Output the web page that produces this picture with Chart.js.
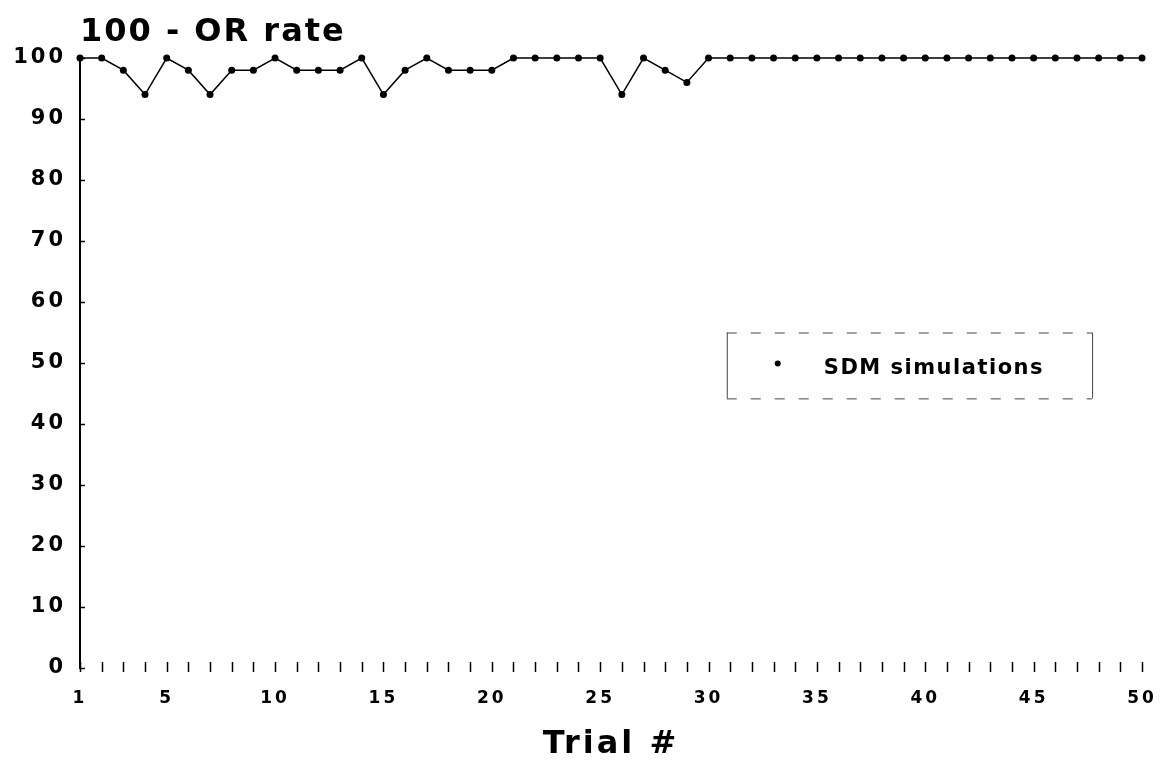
<!DOCTYPE html>
<html>
<head>
<meta charset="utf-8">
<script src="https://cdn.jsdelivr.net/npm/chart.js@4/dist/chart.umd.min.js"></script>
<style>
  html, body { margin: 0; padding: 0; background: #fff; }
  #wrap { width: 1161px; height: 762px; position: relative; }
</style>
</head>
<body>
<div id="wrap"><canvas id="c"></canvas></div>
<script>
const chartTitle = "100 - OR rate";
const xTitle = "Trial #";
const seriesLabel = "SDM simulations";
const trials = [1, 2, 3, 4, 5, 6, 7, 8, 9, 10,
                11, 12, 13, 14, 15, 16, 17, 18, 19, 20,
                21, 22, 23, 24, 25, 26, 27, 28, 29, 30,
                31, 32, 33, 34, 35, 36, 37, 38, 39, 40,
                41, 42, 43, 44, 45, 46, 47, 48, 49, 50];
const rate = [100, 100, 98, 94, 100, 98, 94, 98, 98, 100,
              98, 98, 98, 100, 94, 98, 100, 98, 98, 98,
              100, 100, 100, 100, 100, 94, 100, 98, 96, 100,
              100, 100, 100, 100, 100, 100, 100, 100, 100, 100,
              100, 100, 100, 100, 100, 100, 100, 100, 100, 100];
const xTickValues = [1, 5, 10, 15, 20, 25, 30, 35, 40, 45, 50];
const yTickValues = [0, 10, 20, 30, 40, 50, 60, 70, 80, 90, 100];

const FONT = "'DejaVu Sans', 'Liberation Sans', Arial, sans-serif";

const spacing = {
  id: 'spacing',
  beforeDraw(chart) { chart.ctx.letterSpacing = '3px'; },
  afterDraw(chart) { chart.ctx.letterSpacing = '0px'; }
};

const decor = {
  id: 'decor',
  afterDraw(chart) {
    const ctx = chart.ctx;
    const ca = chart.chartArea;
    const xs = chart.scales.x, ys = chart.scales.y;
    ctx.save();
    // title
    ctx.fillStyle = '#000';
    ctx.font = "bold 32px " + FONT;
    ctx.letterSpacing = '2px';
    ctx.textAlign = 'left';
    ctx.textBaseline = 'alphabetic';
    ctx.fillText(chartTitle, ca.left, 41);
    ctx.letterSpacing = '0px';
    // x tick marks at every trial (pointing up)
    ctx.strokeStyle = '#000';
    ctx.lineWidth = 1.5;
    trials.forEach(t => {
      const px = Math.round(xs.getPixelForValue(t)) + 0.5;
      ctx.beginPath();
      ctx.moveTo(px, ca.bottom + 4);
      ctx.lineTo(px, ca.bottom - 6);
      ctx.stroke();
    });
    // y tick marks (inside)
    yTickValues.forEach(v => {
      const py = Math.round(ys.getPixelForValue(v)) + 0.5;
      ctx.beginPath();
      ctx.moveTo(ca.left, py);
      ctx.lineTo(ca.left + 5, py);
      ctx.stroke();
    });
    // legend box
    const w = ca.right - ca.left, h = ca.bottom - ca.top;
    const lx = ca.left + w * 0.609, rx = ca.left + w * 0.953;
    const ty = ca.top + h * 0.450, by = ca.top + h * 0.558;
    ctx.lineWidth = 1;
    ctx.strokeStyle = '#444';
    ctx.beginPath();
    ctx.moveTo(lx + 0.5, ty); ctx.lineTo(lx + 0.5, by);
    ctx.moveTo(rx + 0.5, ty); ctx.lineTo(rx + 0.5, by);
    ctx.stroke();
    ctx.setLineDash([10, 14]);
    ctx.beginPath();
    ctx.moveTo(lx, ty + 0.5); ctx.lineTo(rx, ty + 0.5);
    ctx.moveTo(lx, by + 0.5); ctx.lineTo(rx, by + 0.5);
    ctx.stroke();
    ctx.setLineDash([]);
    const my = (ty + by) / 2;
    ctx.fillStyle = '#000';
    ctx.beginPath();
    ctx.arc(lx + 51, my - 2, 3, 0, Math.PI * 2);
    ctx.fill();
    ctx.font = "bold 21px " + FONT;
    ctx.letterSpacing = '1.5px';
    ctx.textBaseline = 'middle';
    ctx.fillText(seriesLabel, lx + 97, my + 3);
    ctx.restore();
  }
};

new Chart(document.getElementById('c'), {
  type: 'line',
  data: {
    datasets: [{
      label: seriesLabel,
      data: trials.map((t, i) => ({ x: t, y: rate[i] })),
      borderColor: '#000',
      backgroundColor: '#000',
      borderWidth: 1.5,
      pointRadius: 3.5,
      pointHoverRadius: 3.5,
      pointBorderWidth: 0,
      tension: 0,
      clip: false
    }]
  },
  options: {
    responsive: true,
    maintainAspectRatio: false,
    animation: false,
    devicePixelRatio: 1,
    layout: { padding: { top: 58, right: 19, left: 0, bottom: 0 } },
    plugins: { legend: { display: false }, title: { display: false }, tooltip: { enabled: false } },
    scales: {
      x: {
        type: 'linear',
        min: 1, max: 50,
        afterBuildTicks: s => { s.ticks = xTickValues.map(v => ({ value: v })); },
        afterFit: s => { s.height = 94; s.paddingLeft = 0; s.paddingRight = 0; },
        grid: { display: false, drawTicks: false },
        border: { display: false },
        ticks: { color: '#000', padding: 20, maxRotation: 0, autoSkip: false,
                 font: { family: FONT, size: 17, weight: 'bold' } },
        title: { display: true, text: xTitle, color: '#000',
                 font: { family: FONT, size: 32, weight: 'bold', lineHeight: 1 },
                 padding: { top: 0, bottom: 1 } }
      },
      y: {
        min: 0, max: 100,
        afterBuildTicks: s => { s.ticks = yTickValues.map(v => ({ value: v })); },
        afterFit: s => { s.width = 80; },
        grid: { display: false, drawTicks: false },
        border: { display: true, color: '#000', width: 2 },
        ticks: { color: '#000', padding: 14,
                 font: { family: FONT, size: 21, weight: 'bold' } }
      }
    }
  },
  plugins: [spacing, decor]
});
</script>
</body>
</html>
